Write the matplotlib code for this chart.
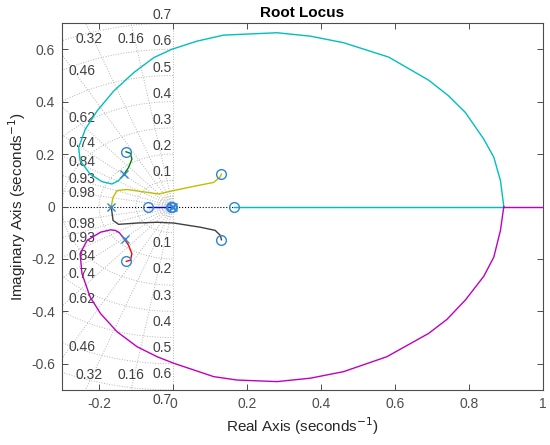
import numpy as np
import matplotlib
matplotlib.use('Agg')
import matplotlib.pyplot as plt

plt.rcParams['font.family'] = ['Liberation Sans', 'DejaVu Sans']

# poles (x) and zeros (o)
pole_re = [-0.132, -0.131, -0.167, -0.003, 0.0]
pole_im = [0.124, -0.125, 0.0, 0.0, 0.0]
zero_re = [-0.127, -0.126, 0.131, 0.131, -0.068, -0.005, -0.002, 0.165]
zero_im = [0.209, -0.209, 0.124, -0.127, 0.0, 0.0, 0.0, 0.0]

# locus branches
cyan_re = [0.894, 0.885, 0.867, 0.840, 0.790, 0.745, 0.691, 0.583, 0.461, 0.371,
           0.281, 0.137, 0.065, -0.003, -0.052, -0.106, -0.160, -0.205, -0.237,
           -0.255, -0.251, -0.224, -0.192, -0.165, -0.147, -0.132]
cyan_im = [0.0, 0.099, 0.188, 0.257, 0.359, 0.422, 0.482, 0.570, 0.625, 0.650,
           0.663, 0.654, 0.631, 0.600, 0.568, 0.511, 0.441, 0.365, 0.295,
           0.225, 0.175, 0.124, 0.095, 0.086, 0.099, 0.124]
cyan_axis_re = [0.165, 0.894]

magenta_re = [-0.131, -0.145, -0.156, -0.169, -0.196, -0.232, -0.251, -0.246, -0.224,
              -0.196, -0.151, -0.097, -0.043, 0.002, 0.110, 0.173, 0.281, 0.371,
              0.461, 0.578, 0.691, 0.740, 0.790, 0.840, 0.867, 0.885, 0.894]
magenta_im = [-0.125, -0.100, -0.091, -0.089, -0.098, -0.129, -0.180, -0.256, -0.345,
              -0.408, -0.478, -0.535, -0.573, -0.598, -0.649, -0.662, -0.668, -0.655,
              -0.630, -0.573, -0.484, -0.431, -0.357, -0.266, -0.193, -0.091, 0.0]
magenta_axis_re = [0.894, 1.0]

green_re = [-0.132, -0.120, -0.111, -0.115, -0.127]
green_im = [0.124, 0.149, 0.181, 0.203, 0.209]

red_re = [-0.131, -0.120, -0.111, -0.115, -0.126]
red_im = [-0.125, -0.148, -0.180, -0.205, -0.209]

yellow_re = [-0.167, -0.162, -0.151, -0.124, -0.070, -0.039, 0.002, 0.056, 0.110, 0.126, 0.131]
yellow_im = [0.0, 0.035, 0.061, 0.065, 0.054, 0.048, 0.061, 0.077, 0.092, 0.111, 0.124]

gray_re = [-0.167, -0.162, -0.147, -0.097, -0.043, 0.002, 0.074, 0.114, 0.128, 0.131]
gray_im = [0.0, -0.053, -0.068, -0.063, -0.060, -0.063, -0.079, -0.091, -0.110, -0.127]

blue_re = [-0.068, -0.003]

# grid
zetas = [0.98, 0.93, 0.84, 0.74, 0.62, 0.46, 0.32, 0.16]
wns = [0.1, 0.2, 0.3, 0.4, 0.5, 0.6, 0.7]
small_wns = [0.01, 0.02, 0.03, 0.04]

fig = plt.figure(figsize=(5.5, 4.45), dpi=100)
ax = fig.add_axes([0.1127, 0.1236, 0.8746, 0.8246])
xlim = (-0.3, 1.0)
ylim = (-0.7, 0.7)
grid_kw = dict(color='#b4b4b4', lw=0.7, ls=':', zorder=1)
lab_color = '#404040'

# damping lines
for z in zetas:
    slope = np.sqrt(1 - z ** 2) / z
    r = 2.0
    ang = np.arccos(z)
    ax.plot([0, -r * np.cos(ang)], [0, r * np.sin(ang)], **grid_kw)
    ax.plot([0, -r * np.cos(ang)], [0, -r * np.sin(ang)], **grid_kw)
    yl = 0.27 * slope
    if yl < 0.64:
        ax.text(-0.283, yl - 0.003, f'{z:g}', ha='left', va='center', fontsize=10, color=lab_color)
        ax.text(-0.283, -yl - 0.013, f'{z:g}', ha='left', va='center', fontsize=10, color=lab_color)
    else:
        xl = -0.64 / slope - 0.01
        ax.text(xl, 0.638, f'{z:g}', ha='center', va='center', fontsize=10, color=lab_color)
        ax.text(xl, -0.643, f'{z:g}', ha='center', va='center', fontsize=10, color=lab_color)
ax.plot([0, 0], [-1, 1], **grid_kw)

# natural frequency circles
th = np.linspace(np.pi / 2, 3 * np.pi / 2, 200)
for w in wns + small_wns:
    ax.plot(w * np.cos(th), w * np.sin(th), **grid_kw)
for w in wns:
    ax.text(-0.003, w + 0.03, f'{w:g}', ha='right', va='center', fontsize=10, color=lab_color)
    ax.text(-0.003, -(w + 0.04), f'{w:g}', ha='right', va='center', fontsize=10, color=lab_color)

# real axis
ax.plot([-1, 2], [0, 0], color='black', lw=0.8, ls=':', zorder=1.5)

lw = 1.0
ax.plot(cyan_re, cyan_im, color=(0, 0.75, 0.75), lw=lw, zorder=3)
ax.plot(cyan_axis_re, [0, 0], color=(0, 0.75, 0.75), lw=lw, zorder=3)
ax.plot(magenta_re, magenta_im, color=(0.75, 0, 0.75), lw=lw, zorder=3)
ax.plot(magenta_axis_re, [0, 0], color=(0.75, 0, 0.75), lw=lw, zorder=3)
ax.plot(green_re, green_im, color=(0, 0.5, 0), lw=lw, zorder=3)
ax.plot(red_re, red_im, color=(1, 0, 0), lw=lw, zorder=3)
ax.plot(yellow_re, yellow_im, color=(0.75, 0.75, 0), lw=lw, zorder=3)
ax.plot(gray_re, gray_im, color=(0.25, 0.25, 0.25), lw=lw, zorder=3)
ax.plot(blue_re, [0, 0], color=(0, 0, 1), lw=lw, zorder=3)

mcol = '#2f86d4'
ax.plot(zero_re, zero_im, ls='none', marker='o', ms=7, mfc='none', mec=mcol, mew=1.0, zorder=4)
ax.plot(pole_re, pole_im, ls='none', marker='x', ms=6, mec=mcol, mew=1.0, zorder=4)

ax.set_xlim(*xlim)
ax.set_ylim(*ylim)
ax.set_xticks([-0.2, 0, 0.2, 0.4, 0.6, 0.8, 1])
ax.set_xticklabels(['-0.2', '0', '0.2', '0.4', '0.6', '0.8', '1'])
ax.set_yticks([-0.6, -0.4, -0.2, 0, 0.2, 0.4, 0.6])
ax.set_yticklabels(['-0.6', '-0.4', '-0.2', '0', '0.2', '0.4', '0.6'])
ax.tick_params(direction='in', top=True, right=True, length=4, width=0.7,
               colors='#4d4d4d', labelsize=10, pad=5)
for s in ax.spines.values():
    s.set_color('#4d4d4d')
    s.set_linewidth(0.8)

ax.set_xlabel('Real Axis (seconds$^{-1}$)', fontsize=11, color='#262626', labelpad=3)
ax.set_ylabel('Imaginary Axis (seconds$^{-1}$)', fontsize=11, color='#262626', labelpad=2)
ax.set_title('Root Locus', fontsize=11, fontweight='bold', color='black', pad=4)

fig.savefig('out.png', dpi=100)
